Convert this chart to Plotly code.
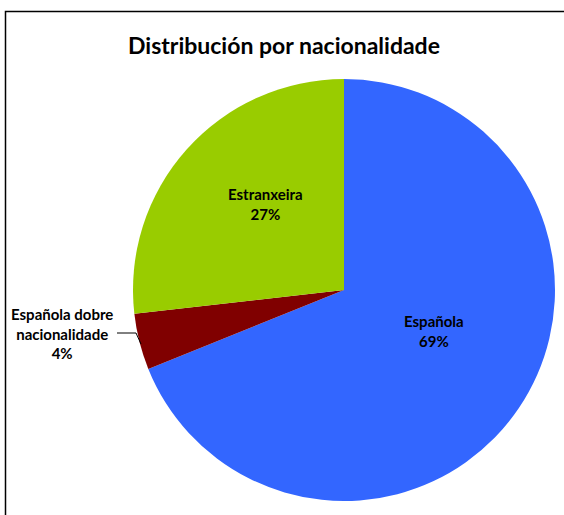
import plotly.graph_objects as go

# Data
labels = ["Española", "Española dobre nacionalidade", "Estranxeira"]
values = [68.9, 4.3, 26.8]
colors = ["#3366FF", "#800000", "#99CC00"]
label_text = ["Española", "Española dobre<br>nacionalidade", "Estranxeira"]

W, H = 564, 515
FONT = "Lato"


def px(x, y):
    """Pixel position -> paper coordinates (margins are zero)."""
    return x / W, 1 - y / H


total = sum(values)
pcts = [round(v / total * 100) for v in values]

fig = go.Figure()
fig.add_trace(
    go.Pie(
        labels=labels,
        values=values,
        sort=False,
        direction="clockwise",
        rotation=0,
        marker=dict(colors=colors, line=dict(width=0)),
        textinfo="none",
        hoverinfo="label+percent",
        domain=dict(x=[133 / W, 555 / W], y=[1 - 501 / H, 1 - 79 / H]),
        showlegend=False,
    )
)

# slice labels (pixel centres)
label_pos = [(434, 331), (62, 333), (265, 204)]
for txt, pct, (lx, ly) in zip(label_text, pcts, label_pos):
    ax, ay = px(lx, ly)
    fig.add_annotation(
        text=f"<b>{txt}<br>{pct}%</b>",
        x=ax, y=ay, xref="paper", yref="paper",
        xanchor="center", yanchor="middle",
        showarrow=False,
        font=dict(family=FONT, size=15, color="#000000"),
        align="center",
    )

# leader line for the small slice
p1, p2, p3 = px(117, 333), px(136, 333), px(141, 344)
fig.add_shape(
    type="path",
    path=f"M {p1[0]},{p1[1]} L {p2[0]},{p2[1]} L {p3[0]},{p3[1]}",
    xref="paper", yref="paper",
    line=dict(color="#000000", width=1),
)

# chart frame
fig.add_shape(
    type="rect",
    x0=5.5 / W, x1=1.05, y0=-0.05, y1=1 - 11.5 / H,
    xref="paper", yref="paper",
    line=dict(color="#000000", width=1.5),
    fillcolor="rgba(0,0,0,0)",
)

tx, ty = px(284, 45)
fig.add_annotation(
    text="<b>Distribución por nacionalidade</b>",
    x=tx, y=ty, xref="paper", yref="paper",
    xanchor="center", yanchor="middle",
    showarrow=False,
    font=dict(family=FONT, size=23, color="#000000"),
)

fig.update_layout(
    width=W,
    height=H,
    margin=dict(l=0, r=0, t=0, b=0),
    paper_bgcolor="white",
    plot_bgcolor="white",
)

fig.write_html(
    "out.html",
    config=dict(displayModeBar=False),
    post_script="document.body.style.margin='0';document.body.style.overflow='hidden';",
)
